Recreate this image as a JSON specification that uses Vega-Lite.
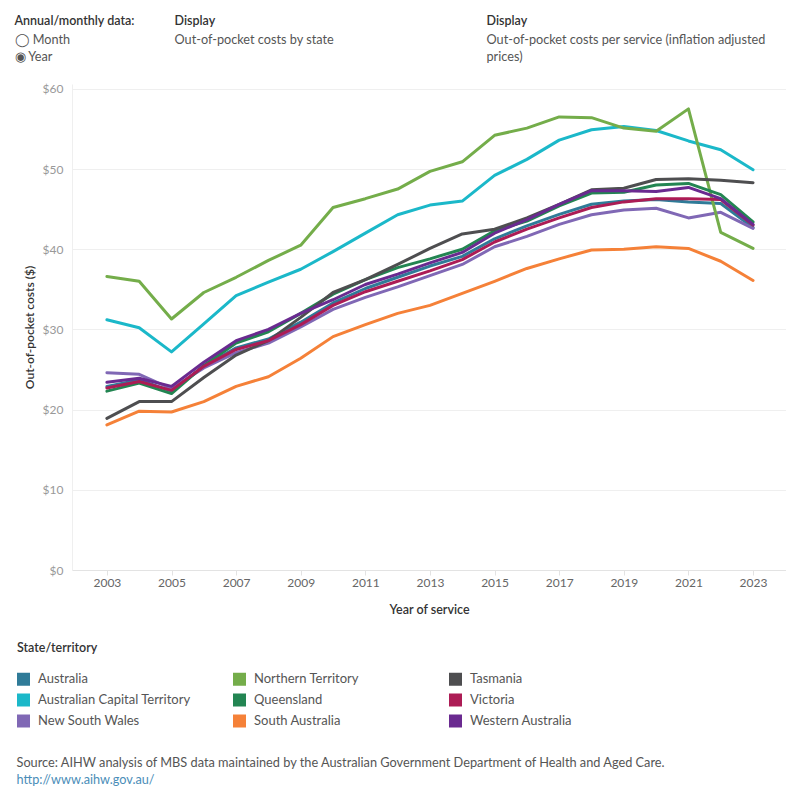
{
  "$schema": "https://vega.github.io/schema/vega-lite/v6.json",
  "background": "white",
  "padding": {"left": 14, "top": 15, "right": 0, "bottom": 0},
  "spacing": 13,
  "config": {
    "font": "Lato",
    "view": {"stroke": null},
    "title": {"anchor": "start", "fontSize": 12.5, "fontWeight": 600, "color": "#333333", "subtitleFontSize": 12.7, "subtitleColor": "#555555", "subtitleLineHeight": 17, "subtitlePadding": 6, "offset": 4, "subtitleFont": "Lato"}
  },
  "vconcat": [
    {
      "spacing": 12,
      "hconcat": [
        {"width": 90, "height": 1, "data": {"values": [{}]}, "mark": {"type": "rule", "opacity": 0}, "encoding": {},
         "title": {"text": "Annual/monthly data:", "subtitle": ["◯ Month", "◉ Year"], "dx": -57}},
        {"width": 299, "height": 1, "data": {"values": [{}]}, "mark": {"type": "rule", "opacity": 0}, "encoding": {},
         "title": {"text": "Display", "subtitle": ["Out-of-pocket costs by state", " "]}},
        {"width": 290, "height": 1, "data": {"values": [{}]}, "mark": {"type": "rule", "opacity": 0}, "encoding": {},
         "title": {"text": "Display", "subtitle": ["Out-of-pocket costs per service (inflation adjusted", "prices)"]}}
      ]
    },
    {
      "width": 714,
      "height": 486,
      "data": {"values": [
        {"state":"Australia","year":2003,"cost":22.9},{"state":"Australia","year":2004,"cost":23.7},{"state":"Australia","year":2005,"cost":22.3},{"state":"Australia","year":2006,"cost":25.4},{"state":"Australia","year":2007,"cost":27.7},{"state":"Australia","year":2008,"cost":28.8},{"state":"Australia","year":2009,"cost":30.9},{"state":"Australia","year":2010,"cost":33.3},{"state":"Australia","year":2011,"cost":35.1},{"state":"Australia","year":2012,"cost":36.5},{"state":"Australia","year":2013,"cost":37.9},{"state":"Australia","year":2014,"cost":39.1},{"state":"Australia","year":2015,"cost":41.3},{"state":"Australia","year":2016,"cost":42.9},{"state":"Australia","year":2017,"cost":44.35},{"state":"Australia","year":2018,"cost":45.6},{"state":"Australia","year":2019,"cost":46.0},{"state":"Australia","year":2020,"cost":46.2},{"state":"Australia","year":2021,"cost":45.9},{"state":"Australia","year":2022,"cost":45.7},{"state":"Australia","year":2023,"cost":42.7},
        {"state":"Australian Capital Territory","year":2003,"cost":31.2},{"state":"Australian Capital Territory","year":2004,"cost":30.2},{"state":"Australian Capital Territory","year":2005,"cost":27.2},{"state":"Australian Capital Territory","year":2006,"cost":30.7},{"state":"Australian Capital Territory","year":2007,"cost":34.2},{"state":"Australian Capital Territory","year":2008,"cost":35.9},{"state":"Australian Capital Territory","year":2009,"cost":37.5},{"state":"Australian Capital Territory","year":2010,"cost":39.7},{"state":"Australian Capital Territory","year":2011,"cost":42.0},{"state":"Australian Capital Territory","year":2012,"cost":44.3},{"state":"Australian Capital Territory","year":2013,"cost":45.5},{"state":"Australian Capital Territory","year":2014,"cost":46.0},{"state":"Australian Capital Territory","year":2015,"cost":49.2},{"state":"Australian Capital Territory","year":2016,"cost":51.2},{"state":"Australian Capital Territory","year":2017,"cost":53.6},{"state":"Australian Capital Territory","year":2018,"cost":54.9},{"state":"Australian Capital Territory","year":2019,"cost":55.3},{"state":"Australian Capital Territory","year":2020,"cost":54.8},{"state":"Australian Capital Territory","year":2021,"cost":53.5},{"state":"Australian Capital Territory","year":2022,"cost":52.4},{"state":"Australian Capital Territory","year":2023,"cost":49.9},
        {"state":"New South Wales","year":2003,"cost":24.6},{"state":"New South Wales","year":2004,"cost":24.4},{"state":"New South Wales","year":2005,"cost":22.6},{"state":"New South Wales","year":2006,"cost":25.2},{"state":"New South Wales","year":2007,"cost":27.1},{"state":"New South Wales","year":2008,"cost":28.3},{"state":"New South Wales","year":2009,"cost":30.3},{"state":"New South Wales","year":2010,"cost":32.5},{"state":"New South Wales","year":2011,"cost":34.0},{"state":"New South Wales","year":2012,"cost":35.3},{"state":"New South Wales","year":2013,"cost":36.7},{"state":"New South Wales","year":2014,"cost":38.1},{"state":"New South Wales","year":2015,"cost":40.3},{"state":"New South Wales","year":2016,"cost":41.6},{"state":"New South Wales","year":2017,"cost":43.1},{"state":"New South Wales","year":2018,"cost":44.3},{"state":"New South Wales","year":2019,"cost":44.9},{"state":"New South Wales","year":2020,"cost":45.1},{"state":"New South Wales","year":2021,"cost":43.9},{"state":"New South Wales","year":2022,"cost":44.6},{"state":"New South Wales","year":2023,"cost":42.6},
        {"state":"Northern Territory","year":2003,"cost":36.6},{"state":"Northern Territory","year":2004,"cost":36.0},{"state":"Northern Territory","year":2005,"cost":31.3},{"state":"Northern Territory","year":2006,"cost":34.6},{"state":"Northern Territory","year":2007,"cost":36.5},{"state":"Northern Territory","year":2008,"cost":38.6},{"state":"Northern Territory","year":2009,"cost":40.5},{"state":"Northern Territory","year":2010,"cost":45.2},{"state":"Northern Territory","year":2011,"cost":46.3},{"state":"Northern Territory","year":2012,"cost":47.5},{"state":"Northern Territory","year":2013,"cost":49.7},{"state":"Northern Territory","year":2014,"cost":50.9},{"state":"Northern Territory","year":2015,"cost":54.2},{"state":"Northern Territory","year":2016,"cost":55.1},{"state":"Northern Territory","year":2017,"cost":56.5},{"state":"Northern Territory","year":2018,"cost":56.4},{"state":"Northern Territory","year":2019,"cost":55.1},{"state":"Northern Territory","year":2020,"cost":54.7},{"state":"Northern Territory","year":2021,"cost":57.5},{"state":"Northern Territory","year":2022,"cost":42.1},{"state":"Northern Territory","year":2023,"cost":40.1},
        {"state":"Queensland","year":2003,"cost":22.3},{"state":"Queensland","year":2004,"cost":23.3},{"state":"Queensland","year":2005,"cost":22.0},{"state":"Queensland","year":2006,"cost":25.5},{"state":"Queensland","year":2007,"cost":28.3},{"state":"Queensland","year":2008,"cost":29.7},{"state":"Queensland","year":2009,"cost":32.0},{"state":"Queensland","year":2010,"cost":34.4},{"state":"Queensland","year":2011,"cost":36.2},{"state":"Queensland","year":2012,"cost":37.7},{"state":"Queensland","year":2013,"cost":38.8},{"state":"Queensland","year":2014,"cost":40.0},{"state":"Queensland","year":2015,"cost":42.3},{"state":"Queensland","year":2016,"cost":43.5},{"state":"Queensland","year":2017,"cost":45.4},{"state":"Queensland","year":2018,"cost":47.0},{"state":"Queensland","year":2019,"cost":47.1},{"state":"Queensland","year":2020,"cost":48.0},{"state":"Queensland","year":2021,"cost":48.2},{"state":"Queensland","year":2022,"cost":46.8},{"state":"Queensland","year":2023,"cost":43.4},
        {"state":"South Australia","year":2003,"cost":18.1},{"state":"South Australia","year":2004,"cost":19.8},{"state":"South Australia","year":2005,"cost":19.7},{"state":"South Australia","year":2006,"cost":21.0},{"state":"South Australia","year":2007,"cost":22.9},{"state":"South Australia","year":2008,"cost":24.1},{"state":"South Australia","year":2009,"cost":26.4},{"state":"South Australia","year":2010,"cost":29.1},{"state":"South Australia","year":2011,"cost":30.6},{"state":"South Australia","year":2012,"cost":32.0},{"state":"South Australia","year":2013,"cost":33.0},{"state":"South Australia","year":2014,"cost":34.5},{"state":"South Australia","year":2015,"cost":36.0},{"state":"South Australia","year":2016,"cost":37.6},{"state":"South Australia","year":2017,"cost":38.8},{"state":"South Australia","year":2018,"cost":39.9},{"state":"South Australia","year":2019,"cost":40.0},{"state":"South Australia","year":2020,"cost":40.3},{"state":"South Australia","year":2021,"cost":40.1},{"state":"South Australia","year":2022,"cost":38.5},{"state":"South Australia","year":2023,"cost":36.1},
        {"state":"Tasmania","year":2003,"cost":18.9},{"state":"Tasmania","year":2004,"cost":21.0},{"state":"Tasmania","year":2005,"cost":21.0},{"state":"Tasmania","year":2006,"cost":24.0},{"state":"Tasmania","year":2007,"cost":26.8},{"state":"Tasmania","year":2008,"cost":28.6},{"state":"Tasmania","year":2009,"cost":31.5},{"state":"Tasmania","year":2010,"cost":34.6},{"state":"Tasmania","year":2011,"cost":36.2},{"state":"Tasmania","year":2012,"cost":38.1},{"state":"Tasmania","year":2013,"cost":40.1},{"state":"Tasmania","year":2014,"cost":41.9},{"state":"Tasmania","year":2015,"cost":42.5},{"state":"Tasmania","year":2016,"cost":43.9},{"state":"Tasmania","year":2017,"cost":45.6},{"state":"Tasmania","year":2018,"cost":47.4},{"state":"Tasmania","year":2019,"cost":47.6},{"state":"Tasmania","year":2020,"cost":48.7},{"state":"Tasmania","year":2021,"cost":48.8},{"state":"Tasmania","year":2022,"cost":48.6},{"state":"Tasmania","year":2023,"cost":48.3},
        {"state":"Victoria","year":2003,"cost":22.7},{"state":"Victoria","year":2004,"cost":23.5},{"state":"Victoria","year":2005,"cost":22.4},{"state":"Victoria","year":2006,"cost":25.4},{"state":"Victoria","year":2007,"cost":27.5},{"state":"Victoria","year":2008,"cost":28.6},{"state":"Victoria","year":2009,"cost":30.6},{"state":"Victoria","year":2010,"cost":33.0},{"state":"Victoria","year":2011,"cost":34.7},{"state":"Victoria","year":2012,"cost":36.0},{"state":"Victoria","year":2013,"cost":37.3},{"state":"Victoria","year":2014,"cost":38.7},{"state":"Victoria","year":2015,"cost":40.9},{"state":"Victoria","year":2016,"cost":42.5},{"state":"Victoria","year":2017,"cost":43.9},{"state":"Victoria","year":2018,"cost":45.2},{"state":"Victoria","year":2019,"cost":45.9},{"state":"Victoria","year":2020,"cost":46.3},{"state":"Victoria","year":2021,"cost":46.3},{"state":"Victoria","year":2022,"cost":46.2},{"state":"Victoria","year":2023,"cost":43.0},
        {"state":"Western Australia","year":2003,"cost":23.4},{"state":"Western Australia","year":2004,"cost":23.9},{"state":"Western Australia","year":2005,"cost":22.9},{"state":"Western Australia","year":2006,"cost":25.9},{"state":"Western Australia","year":2007,"cost":28.6},{"state":"Western Australia","year":2008,"cost":30.0},{"state":"Western Australia","year":2009,"cost":32.0},{"state":"Western Australia","year":2010,"cost":33.7},{"state":"Western Australia","year":2011,"cost":35.6},{"state":"Western Australia","year":2012,"cost":36.9},{"state":"Western Australia","year":2013,"cost":38.3},{"state":"Western Australia","year":2014,"cost":39.6},{"state":"Western Australia","year":2015,"cost":42.0},{"state":"Western Australia","year":2016,"cost":43.7},{"state":"Western Australia","year":2017,"cost":45.6},{"state":"Western Australia","year":2018,"cost":47.3},{"state":"Western Australia","year":2019,"cost":47.3},{"state":"Western Australia","year":2020,"cost":47.2},{"state":"Western Australia","year":2021,"cost":47.7},{"state":"Western Australia","year":2022,"cost":46.3},{"state":"Western Australia","year":2023,"cost":43.1}
      ]},
      "mark": {"type": "line", "strokeWidth": 3, "strokeCap": "round", "strokeJoin": "round"},
      "encoding": {
        "x": {"field": "year", "type": "quantitative",
              "scale": {"domain": [2001.92, 2024.02], "nice": false, "zero": false},
              "axis": {"title": "Year of service", "values": [2003, 2005, 2007, 2009, 2011, 2013, 2015, 2017, 2019, 2021, 2023], "format": "d",
                       "grid": false, "domainColor": "#e3e3e3", "tickColor": "#e3e3e3", "tickSize": 5, "labelPadding": 2,
                       "labelFontSize": 12, "labelColor": "#666666", "titleFontSize": 12.5, "titleFontWeight": 600, "titleColor": "#333333", "titlePadding": 15}},
        "y": {"field": "cost", "type": "quantitative",
              "scale": {"domain": [0, 60.6], "nice": false},
              "axis": {"title": "Out-of-pocket costs ($)", "values": [0, 10, 20, 30, 40, 50, 60], "format": "$.0f",
                       "ticks": false, "gridColor": "#efefef", "domainColor": "#efefef", "labelPadding": 9,
                       "labelFontSize": 12, "labelColor": "#999999", "titleFontSize": 12, "titleFontWeight": 600, "titleColor": "#333333", "titlePadding": 6}},
        "color": {"field": "state", "type": "nominal",
                  "scale": {"domain": ["Australia", "Australian Capital Territory", "New South Wales", "Northern Territory", "Queensland", "South Australia", "Tasmania", "Victoria", "Western Australia"],
                            "range": ["#2F7B98", "#1BB8C9", "#8068B5", "#74AD4A", "#238552", "#F58138", "#4E4E50", "#AC1C55", "#6A2A90"]},
                  "legend": {"title": "State/territory", "orient": "none", "legendX": -55, "legendY": 574, "columns": 3, "columnPadding": 42, "gridAlign": "all",
                             "rowPadding": 7, "symbolType": "square", "symbolSize": 169, "symbolStrokeWidth": 0, "labelFontSize": 13, "labelColor": "#555555", "labelOffset": 8, "labelLimit": 300,
                             "titleFontSize": 12.5, "titleFontWeight": 600, "titleColor": "#333333", "titlePadding": 18,
                             "encode": {"symbols": {"update": {"fill": {"scale": "color", "field": "value"}, "strokeWidth": {"value": 0}, "opacity": {"value": 1}}}}}}
      }
    },
    {
      "width": 700, "height": 1, "data": {"values": [{}]}, "mark": {"type": "rule", "opacity": 0}, "encoding": {},
      "title": {"text": "Source: AIHW analysis of MBS data maintained by the Australian Government Department of Health and Aged Care.",
                "subtitle": "http://www.aihw.gov.au/", "orient": "bottom", "offset": 126, "dx": -55, "fontSize": 12.75, "fontWeight": "normal", "color": "#555555", "subtitleColor": "#4A8DB8", "subtitlePadding": 4}
    }
  ]
}
